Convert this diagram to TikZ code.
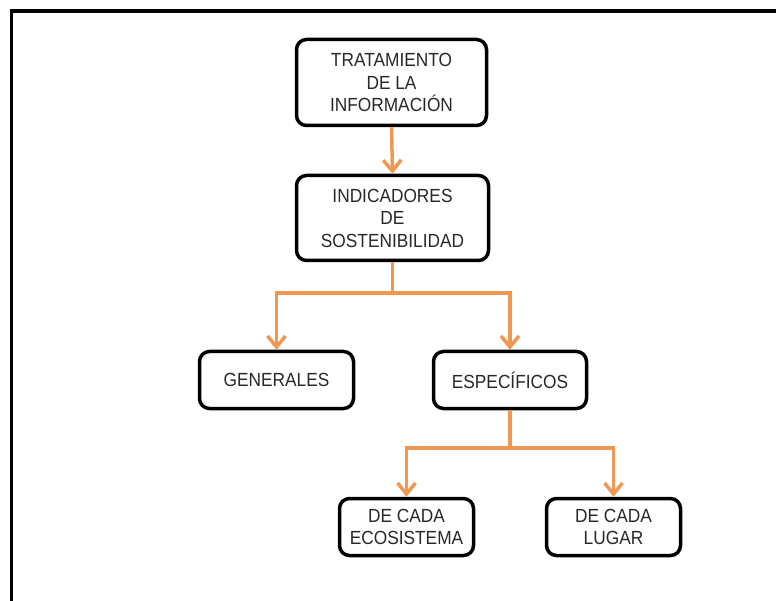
\documentclass[tikz,border=0pt]{standalone}
\usepackage{fontspec}
\setmainfont{Liberation Sans}
\newfontfamily\boxfont[FakeStretch=0.91]{Liberation Sans}
\usetikzlibrary{arrows.meta}
\definecolor{arrorange}{RGB}{240,152,82}
\definecolor{txtgray}{RGB}{40,40,40}
\tikzset{
  box/.style={draw=black, line width=3.5pt, rounded corners=10pt, fill=white,
    align=center, inner sep=0pt, text=txtgray,
    font=\boxfont\fontsize{19}{22.5}\selectfont},
  arr/.style={draw=arrorange, line width=3.5pt,
    -{Straight Barb[length=11pt,width=18pt,line width=3.5pt]}},
  link/.style={draw=arrorange, line width=3.5pt}
}
\begin{document}
\begin{tikzpicture}[x=1pt,y=-1pt]
\useasboundingbox (0,0) rectangle (776,601);
\begin{scope}
\clip (0,0) rectangle (776,601);
\draw[line width=3.5pt] (11.5,11) rectangle (800,620);
\end{scope}
\node[box, minimum width=190pt, minimum height=86pt] (tr) at (391.5,82.5) {TRATAMIENTO\\DE LA\\INFORMACIÓN};
\node[box, minimum width=192pt, minimum height=85pt] (ind) at (392.5,218) {INDICADORES\\DE\\SOSTENIBILIDAD};
\node[box, minimum width=154pt, minimum height=57pt] (gen) at (276.5,380) {GENERALES};
\node[box, minimum width=153pt, minimum height=57pt] (esp) at (510,380) {ESPECÍFICOS};
\node[box, minimum width=134pt, minimum height=57pt] (eco) at (406.5,527) {DE CADA\\ECOSISTEMA};
\node[box, minimum width=134pt, minimum height=57pt] (lug) at (613.5,527) {DE CADA\\LUGAR};
\coordinate (b1) at (392.5,293);
\coordinate (b2) at (510,448);
\draw[arr] (tr.south) -- (ind.north);
\draw[link] (ind.south) -- (b1);
\draw[arr] (b1) -| (gen.north);
\draw[arr] (b1) -| (esp.north);
\draw[link] (esp.south) -- (b2);
\draw[arr] (b2) -| (eco.north);
\draw[arr] (b2) -| (lug.north);
\end{tikzpicture}
\end{document}
